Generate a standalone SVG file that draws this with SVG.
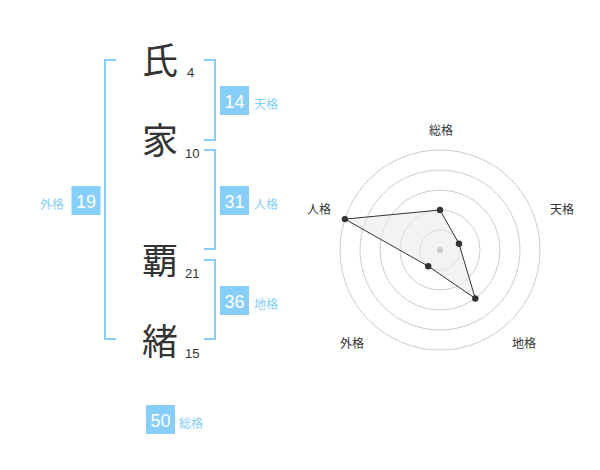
<svg xmlns="http://www.w3.org/2000/svg" width="600" height="470" viewBox="0 0 600 470">
<style>
.k{font-family:"Noto Sans CJK JP","Noto Sans CJK SC",sans-serif;font-size:36px;fill:#333;text-anchor:middle}
.n{font-family:"Liberation Sans",Arial,sans-serif;font-size:13px;fill:#333}
.br{fill:none;stroke:#87cefa;stroke-width:2}
.box{fill:#87cefa}
.bn{font-family:"Liberation Sans",Arial,sans-serif;font-size:18px;fill:#fff;text-anchor:middle}
.bl{font-family:"Noto Sans CJK JP","Noto Sans CJK SC",sans-serif;font-size:12px;fill:#87cefa}
.rl{font-family:"Noto Sans CJK JP","Noto Sans CJK SC",sans-serif;font-size:12px;fill:#333;text-anchor:middle}
.ring{fill:none;stroke:#ccc;stroke-width:1}
.pt{fill:#333}
</style>
<rect width="600" height="470" fill="#fff"/>
<g id="chars">
<text class="k" x="160" y="74">氏</text>
<text class="k" x="160" y="154">家</text>
<text class="k" x="160" y="274">覇</text>
<text class="k" x="160" y="355">緒</text>
<text class="n" x="187" y="77">4</text>
<text class="n" x="185" y="158">10</text>
<text class="n" x="185" y="278">21</text>
<text class="n" x="185" y="358">15</text>
</g>
<g id="connectors">
<path class="br" d="M116,60 H105 V339 H116"/>
<path class="br" d="M204,60 H215 V140 H204"/>
<path class="br" d="M204,150 H215 V249 H204"/>
<path class="br" d="M204,260 H215 V339 H204"/>
</g>
<g id="tenkaku">
<rect class="box" x="220" y="86" width="29" height="29"/>
<text class="bn" x="234.5" y="108">14</text>
<text class="bl" x="254" y="109">天格</text>
</g>
<g id="jinkaku">
<rect class="box" x="220" y="186" width="29" height="29"/>
<text class="bn" x="234.5" y="208">31</text>
<text class="bl" x="254" y="209">人格</text>
</g>
<g id="gaikaku">
<rect class="box" x="71.5" y="186" width="29" height="29"/>
<text class="bn" x="86" y="208">19</text>
<text class="bl" x="40" y="209">外格</text>
</g>
<g id="chikaku">
<rect class="box" x="220" y="286" width="29" height="29"/>
<text class="bn" x="234.5" y="308">36</text>
<text class="bl" x="254" y="309">地格</text>
</g>
<g id="soukaku">
<rect class="box" x="146" y="405" width="29" height="29"/>
<text class="bn" x="160.5" y="427">50</text>
<text class="bl" x="179" y="428">総格</text>
</g>
<g id="radar">
<circle class="ring" cx="440" cy="250" r="20"/>
<circle class="ring" cx="440" cy="250" r="40"/>
<circle class="ring" cx="440" cy="250" r="60"/>
<circle class="ring" cx="440" cy="250" r="80"/>
<circle class="ring" cx="440" cy="250" r="100"/>
<polygon points="440,210 459,243.8 475.3,298.5 428.2,266.2 344.9,219.1" fill="#ebebeb" fill-opacity="0.6" stroke="#333" stroke-width="1"/>
<circle cx="440" cy="250" r="3" fill="#ccc"/>
<circle class="pt" cx="440" cy="210" r="3.2"/>
<circle class="pt" cx="459" cy="243.8" r="3.2"/>
<circle class="pt" cx="475.3" cy="298.5" r="3.2"/>
<circle class="pt" cx="428.2" cy="266.2" r="3.2"/>
<circle class="pt" cx="344.9" cy="219.1" r="3.2"/>
<text class="rl" x="441" y="135">総格</text>
<text class="rl" x="562" y="214">天格</text>
<text class="rl" x="319" y="214">人格</text>
<text class="rl" x="352" y="348">外格</text>
<text class="rl" x="524" y="348">地格</text>
</g>
</svg>
